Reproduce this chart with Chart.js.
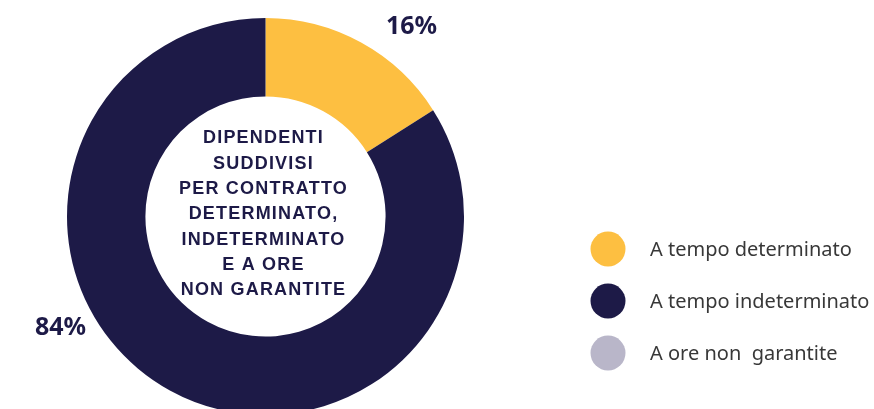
<!DOCTYPE html>
<html><head><meta charset="utf-8">
<script src="https://cdn.jsdelivr.net/npm/chart.js@4.4.0/dist/chart.umd.min.js"></script>
<style>
html,body{margin:0;padding:0;background:#fff;overflow:hidden;width:874px;height:409px;}
#wrap{position:absolute;left:0;top:0;width:874px;height:440px;}
</style></head>
<body>
<div id="wrap"><canvas id="c" width="874" height="440"></canvas></div>
<script>
const categories = ["A tempo determinato", "A tempo indeterminato", "A ore non  garantite"];
const values = [16, 84, 0];
const percentLabels = ["16%", "84%", ""];
const centerLines = ["DIPENDENTI", "SUDDIVISI", "PER CONTRATTO", "DETERMINATO,", "INDETERMINATO", "E A ORE", "NON GARANTITE"];
const colors = ["#FDBF41", "#1D1A47", "#B9B6C9"];

const NAVY = "#1D1A47";

const overlay = {
  id: "overlay",
  afterDraw(chart) {
    const ctx = chart.ctx;
    const meta = chart.getDatasetMeta(0);
    const arc0 = meta.data[0];
    const cx = arc0.x, cy = arc0.y;
    ctx.save();
    // center text
    ctx.fillStyle = NAVY;
    ctx.font = "bold 18px 'Liberation Sans', Arial, sans-serif";
    if ('letterSpacing' in ctx) ctx.letterSpacing = "1.2px";
    ctx.textAlign = "center";
    ctx.textBaseline = "middle";
    const lh = 25.3;
    const startY = cy - 78;
    centerLines.forEach((t, i) => ctx.fillText(t, cx - 2, startY + i * lh));
    if ('letterSpacing' in ctx) ctx.letterSpacing = "0px";
    // percentage labels
    ctx.font = "bold 25px 'Noto Sans', 'Liberation Sans', sans-serif";
    const offsets = [[146, -190], [-205, 111]];
    percentLabels.forEach((t, i) => {
      if (!t) return;
      ctx.fillText(t, cx + offsets[i][0], cy + offsets[i][1]);
    });
    // legend
    ctx.font = "20px 'Noto Sans', 'Liberation Sans', sans-serif";
    ctx.textAlign = "left";
    categories.forEach((name, i) => {
      const y = 249 + i * 52;
      ctx.beginPath();
      ctx.fillStyle = colors[i];
      ctx.arc(608, y, 17.5, 0, Math.PI * 2);
      ctx.fill();
      ctx.fillStyle = "#383838";
      ctx.fillText(name, 650, y + 1);
    });
    ctx.restore();
  }
};

new Chart(document.getElementById("c"), {
  type: "doughnut",
  data: {
    labels: categories,
    datasets: [{
      data: values,
      backgroundColor: colors,
      borderWidth: 0,
      hoverOffset: 0
    }]
  },
  options: {
    responsive: false,
    animation: false,
    cutout: "60.5%",
    layout: { padding: { left: 67, top: 18, right: 410, bottom: 25 } },
    plugins: { legend: { display: false }, tooltip: { enabled: false } }
  },
  plugins: [overlay]
});
</script>
</body></html>
